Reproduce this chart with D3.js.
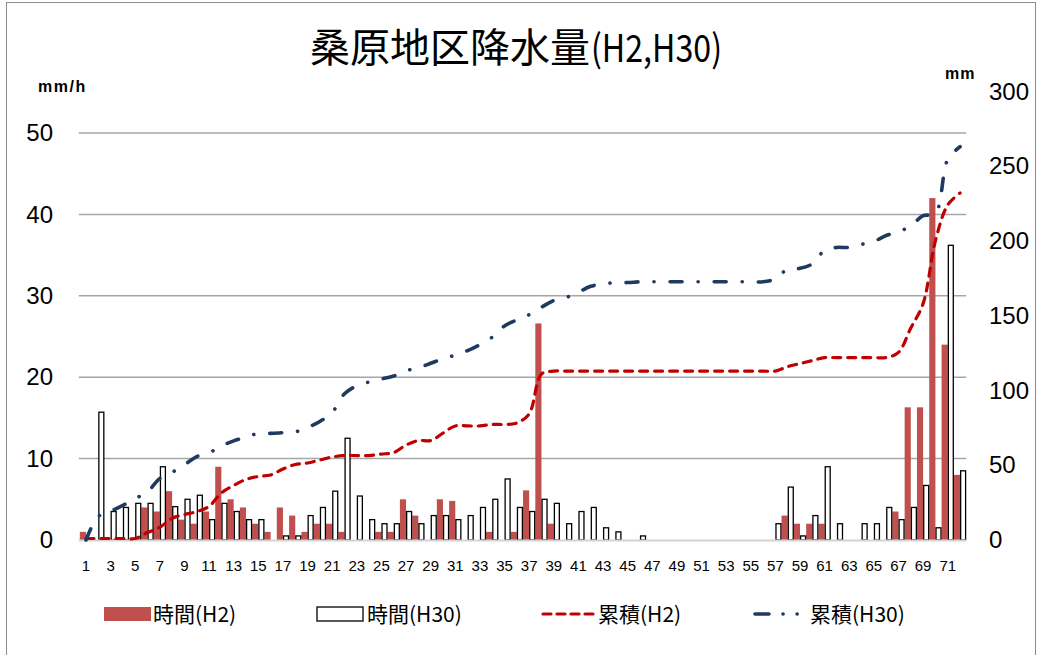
<!DOCTYPE html>
<html>
<head>
<meta charset="utf-8">
<script src="https://cdn.jsdelivr.net/npm/d3@7"></script>
<style>
  body { margin: 0; background: #fff; }
  svg { display: block; }
</style>
</head>
<body>
<svg id="chart" width="1037" height="655"></svg>
<script>
// Hour index along the storm (1..72)
const categories = [1,2,3,4,5,6,7,8,9,10,11,12,13,14,15,16,17,18,19,20,21,22,23,24,25,26,27,28,29,30,31,32,33,34,35,36,
  37,38,39,40,41,42,43,44,45,46,47,48,49,50,51,52,53,54,55,56,57,58,59,60,61,62,63,64,65,66,67,68,69,70,71,72];

// Hourly rainfall (mm/h)
const hourlyH2 = [1,0,0,0,0,4,3.5,6,2.5,2, 3.5,9,5,4,2,1,4,3,1,2, 2,1,0,0,1,1,5,3,0,5,
  4.8,0,0,1,0,1,6.1,26.6,2,0, 0,0,0,0,0,0,0,0,0,0, 0,0,0,0,0,0,0,3,2,2, 2,0,0,0,0,0,3.5,16.3,16.3,42, 24,8];
const hourlyH30 = [0,15.7,3.5,4,4.5,4.5,9,4.1,5,5.5, 2.5,4.5,3.5,2.5,2.5,0,0.5,0.5,3,4, 6,12.5,5.4,2.5,2,2,3.5,2,3,3,
  2.5,3,4,5,7.5,4,3.5,5,4.5,2, 3.5,4,1.5,1,0,0.5,0,0,0,0, 0,0,0,0,0,0,2,6.5,0.5,3, 9,2,0,2,2,4,2.5,4,6.7,1.5, 36.2,8.5];

// Cumulative rainfall (mm)
const cumulativeH2 = [1,1,1,1,1,5,8.5,14.5,17,19, 22.5,31.5,36.5,40.5,42.5,43.5,47.5,50.5,51.5,53.5,
  55.5,56.5,56.5,56.5,57.5,58.5,63.5,66.5,66.5,71.5, 76.3,76.3,76.3,77.3,77.3,78.3,84.4,111,113,113,
  113,113,113,113,113,113,113,113,113,113, 113,113,113,113,113,113,113,116,118,120,
  122,122,122,122,122,122,125.5,141.8,158.1,200.1, 224.1,232.1];
const cumulativeH30 = [0,15.7,19.2,23.2,27.7,32.2,41.2,45.3,50.3,55.8, 58.3,62.8,66.3,68.8,71.3,71.3,71.8,72.3,75.3,79.3,
  85.3,97.8,103.2,105.7,107.7,109.7,113.2,115.2,118.2,121.2, 123.7,126.7,130.7,135.7,143.2,147.2,150.7,155.7,160.2,162.2,
  165.7,169.7,171.2,172.2,172.2,172.7,172.7,172.7,172.7,172.7, 172.7,172.7,172.7,172.7,172.7,172.7,174.7,181.2,181.7,184.7,
  193.7,195.7,195.7,197.7,199.7,203.7,206.2,210.2,216.9,218.4, 254.6,263.1];

const xTickLabels = [1,3,5,7,9,11,13,15,17,19,21,23,25,27,29,31,33,35,37,39,41,43,45,47,49,51,53,55,57,59,61,63,65,67,69,71];
const leftTicks = [0,10,20,30,40,50];
const rightTicks = [0,50,100,150,200,250,300];

const seriesNames = ["時間(H2)", "時間(H30)", "累積(H2)", "累積(H30)"];

const colors = { barH2: "#C0504D", lineH2: "#C00000", lineH30: "#1F3A5F", grid: "#a6a6a6", base: "#d4d4d4" };
const numFont = "'Liberation Sans', Arial, sans-serif";
const cjkFont = "'Noto Sans CJK JP', 'Noto Sans', sans-serif";

const svg = d3.select("#chart");
const plot = { left: 79.8, right: 966.2, top: 91.5, bottom: 540 };

const x = d3.scaleBand().domain(categories).range([plot.left, plot.right]).padding(0);
const bw = x.bandwidth();
const yL = d3.scaleLinear().domain([0, 50]).range([plot.bottom, 133]);
const yR = d3.scaleLinear().domain([0, 300]).range([plot.bottom, plot.top]);

// outer frame
svg.append("rect").attr("x", 6.5).attr("y", 2.5).attr("width", 1029).attr("height", 700)
  .attr("fill", "none").attr("stroke", "#8c8c8c").attr("stroke-width", 1);

// title
svg.append("text").attr("x", 590).attr("y", 62).attr("text-anchor", "end")
  .attr("font-family", cjkFont).attr("font-size", 40).attr("fill", "#000")
  .text("桑原地区降水量");
svg.append("text").attr("x", 591).attr("y", 62)
  .attr("font-family", cjkFont).attr("font-size", 38).attr("fill", "#000")
  .attr("textLength", 131).attr("lengthAdjust", "spacingAndGlyphs")
  .text("(H2,H30)");

// unit labels
svg.append("text").attr("x", 38).attr("y", 92).attr("font-family", numFont).attr("font-weight", "bold")
  .attr("font-size", 16).attr("letter-spacing", 1.5).text("mm/h");
svg.append("text").attr("x", 945).attr("y", 79).attr("font-family", numFont).attr("font-weight", "bold")
  .attr("font-size", 16).attr("letter-spacing", 1).text("mm");

// horizontal gridlines
svg.append("g").selectAll("line").data(leftTicks.filter(t => t > 0)).join("line")
  .attr("x1", plot.left - 1).attr("x2", plot.right)
  .attr("y1", d => yL(d)).attr("y2", d => yL(d))
  .attr("stroke", colors.grid).attr("stroke-width", 1.5);

// left axis
const gL = svg.append("g").attr("transform", `translate(53,0)`)
  .call(d3.axisLeft(yL).tickValues(leftTicks).tickSize(0).tickPadding(0));
gL.select(".domain").remove();
gL.selectAll("text").attr("font-family", numFont).attr("font-size", 24).attr("fill", "#000");

// right axis
const gR = svg.append("g").attr("transform", `translate(989,0)`)
  .call(d3.axisRight(yR).tickValues(rightTicks).tickSize(0).tickPadding(0));
gR.select(".domain").remove();
gR.selectAll("text").attr("font-family", numFont).attr("font-size", 24).attr("fill", "#000");

// bars: H2 on the left half of each hour, H30 on the right half
const bars = svg.append("g");
bars.selectAll("rect.h2").data(categories.map((c, i) => ({ c, v: hourlyH2[i] })).filter(d => d.v > 0))
  .join("rect").attr("class", "h2")
  .attr("x", d => x(d.c)).attr("width", bw / 2)
  .attr("y", d => yL(d.v)).attr("height", d => yL(0) - yL(d.v))
  .attr("fill", colors.barH2);
bars.selectAll("rect.h30").data(categories.map((c, i) => ({ c, v: hourlyH30[i] })).filter(d => d.v > 0))
  .join("rect").attr("class", "h30")
  .attr("x", d => x(d.c) + bw / 2 + 0.6).attr("width", bw / 2 - 1.2)
  .attr("y", d => yL(d.v)).attr("height", d => yL(0) - yL(d.v))
  .attr("fill", "#fff").attr("stroke", "#000").attr("stroke-width", 1.3);

// baseline
svg.append("line").attr("x1", plot.left - 1).attr("x2", plot.right)
  .attr("y1", plot.bottom + 0.5).attr("y2", plot.bottom + 0.5)
  .attr("stroke", colors.base).attr("stroke-width", 2);

// x axis labels
const gX = svg.append("g").attr("transform", `translate(0,${plot.bottom})`)
  .call(d3.axisBottom(x).tickValues(xTickLabels).tickSize(0).tickPadding(20));
gX.select(".domain").remove();
gX.selectAll("text").attr("font-family", numFont).attr("font-size", 15).attr("fill", "#000");

// cumulative lines on the right axis
const line = d3.line()
  .x((d, i) => x(categories[i]) + bw / 2)
  .y(d => yR(d))
  .curve(d3.curveCatmullRom.alpha(0.5));

svg.append("path").datum(cumulativeH2).attr("d", line)
  .attr("fill", "none").attr("stroke", colors.lineH2).attr("stroke-width", 3.2)
  .attr("stroke-linecap", "round").attr("stroke-dasharray", "8,7");
svg.append("path").datum(cumulativeH30).attr("d", line)
  .attr("fill", "none").attr("stroke", colors.lineH30).attr("stroke-width", 3.6)
  .attr("stroke-linecap", "round").attr("stroke-dasharray", "12,16,0.1,16");

// legend
const legY = 614;
const leg = svg.append("g");
leg.append("rect").attr("x", 104).attr("y", legY - 7).attr("width", 47).attr("height", 14).attr("fill", colors.barH2);
leg.append("rect").attr("x", 317).attr("y", legY - 7).attr("width", 46).attr("height", 14)
  .attr("fill", "#fff").attr("stroke", "#000").attr("stroke-width", 1.3);
leg.append("line").attr("x1", 543).attr("x2", 594).attr("y1", legY).attr("y2", legY)
  .attr("stroke", colors.lineH2).attr("stroke-width", 3.2).attr("stroke-linecap", "round").attr("stroke-dasharray", "8,6");
leg.append("line").attr("x1", 755).attr("x2", 806).attr("y1", legY).attr("y2", legY)
  .attr("stroke", colors.lineH30).attr("stroke-width", 3.6).attr("stroke-linecap", "round")
  .attr("stroke-dasharray", "14,14,0.1,14,0.1,40");
const legText = [[153, seriesNames[0]], [367, seriesNames[1]], [598, seriesNames[2]], [810, seriesNames[3]]];
leg.selectAll("text").data(legText).join("text")
  .attr("x", d => d[0]).attr("y", legY).attr("dy", "0.36em")
  .attr("font-family", cjkFont).attr("font-size", 21).attr("fill", "#000")
  .text(d => d[1]);
</script>
</body>
</html>
